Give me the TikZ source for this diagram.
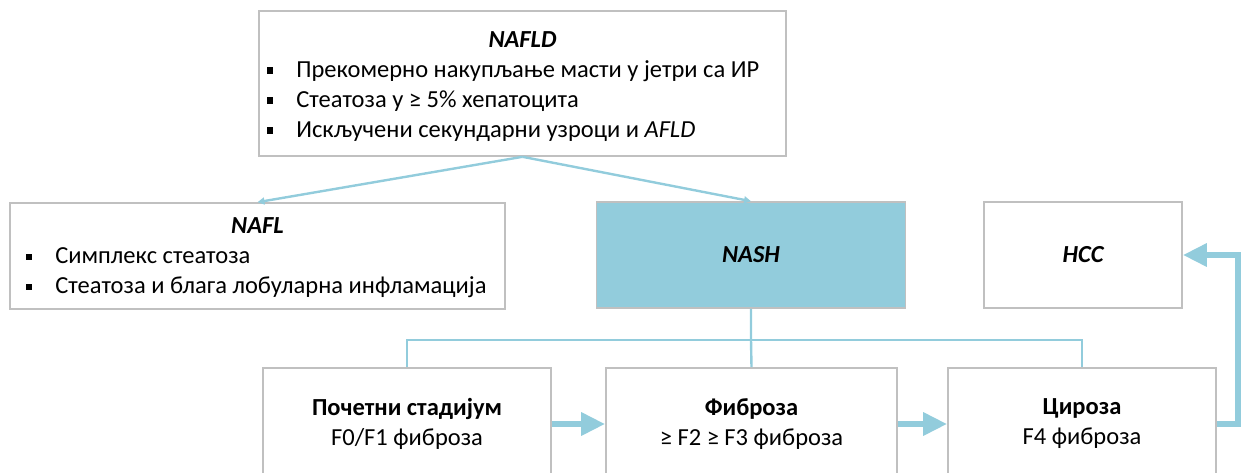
\documentclass[tikz,border=0pt]{standalone}
\usepackage{fontspec}
\setmainfont{Carlito}
\usetikzlibrary{arrows.meta,positioning}
\definecolor{lblue}{RGB}{146,204,220}
\definecolor{bgray}{RGB}{192,192,192}
\newcommand\sq{\rule[0.16em]{0.25em}{0.25em}\hspace{23pt}}

\begin{document}
\begin{tikzpicture}[x=1pt,y=-1pt,font=\fontsize{24.5}{30}\selectfont,
  box/.style 2 args={draw=bgray,line width=1.6pt,minimum width=#1,minimum height=#2,inner sep=0pt},
  ttl/.style={font=\fontsize{24.5}{30}\selectfont\bfseries\itshape},
  lst/.style={align=left,anchor=west,inner sep=0pt},
  stg/.style={align=center,inner sep=0pt},
  tln/.style={draw=lblue,line width=2.4pt},
  tarr/.style={tln,-{Triangle[length=7pt,width=7pt]}},
  barr/.style={draw=lblue,line width=6pt,line join=miter,-{Triangle[length=24pt,width=22pt]}}]
\useasboundingbox (0,0) rectangle (1242,472);
\clip (0,0) rectangle (1242,472);
% boxes
\node[box={527}{145}] (nafld) at (522.5,83.5) {};
\node[box={495}{106}] (nafl) at (257.5,256) {};
\node[box={309}{106},fill=lblue] (nash) at (751,255) {};
\node[box={198}{106}] (hcc) at (1083,255) {};
\node[box={288}{112}] (poc) at (407,424) {};
\node[box={291}{112}] (fib) at (751.5,424) {};
\node[box={268}{112}] (cir) at (1082,424) {};
% texts
\node[ttl] (t1) at (522.5,40) {NAFLD};
\node[lst] (l1) at (267,101) {\sq Прекомерно накупљање масти у јетри са ИР\\
  \sq Стеатоза у ≥ 5\% хепатоцита\\
  \sq Искључени секундарни узроци и \textit{AFLD}};
\node[ttl] (t2) at (257.5,226) {NAFL};
\node[lst] (l2) at (26,273) {\sq Симплекс стеатоза\\
  \sq Стеатоза и блага лобуларна инфламација};
\node[ttl] (t3) at (nash) {NASH};
\node[ttl] (t4) at (hcc) {HCC};
\node[stg] (s1) at (poc) {\textbf{Почетни стадијум}\\F0/F1 фиброза};
\node[stg] (s2) at (fib) {\textbf{Фиброза}\\≥ F2 ≥ F3 фиброза};
\node[stg] (s3) at (cir) {\textbf{Цироза}\\F4 фиброза};
% connectors
\coordinate (j) at (751,340);
\draw[tarr] (nafld.south) -- (nafl.north);
\draw[tarr] (nafld.south) -- (nash.north);
\draw[tln] (nash.south) -- (j) -- (fib.north);
\draw[tln] (poc.north) |- (j) -| (cir.north);
\draw[barr] (poc.east) -- (fib.west);
\draw[barr] (fib.east) -- (cir.west);
\draw[barr] (cir.east) -- ++(21,0) |- (hcc.east);
\end{tikzpicture}
\end{document}
